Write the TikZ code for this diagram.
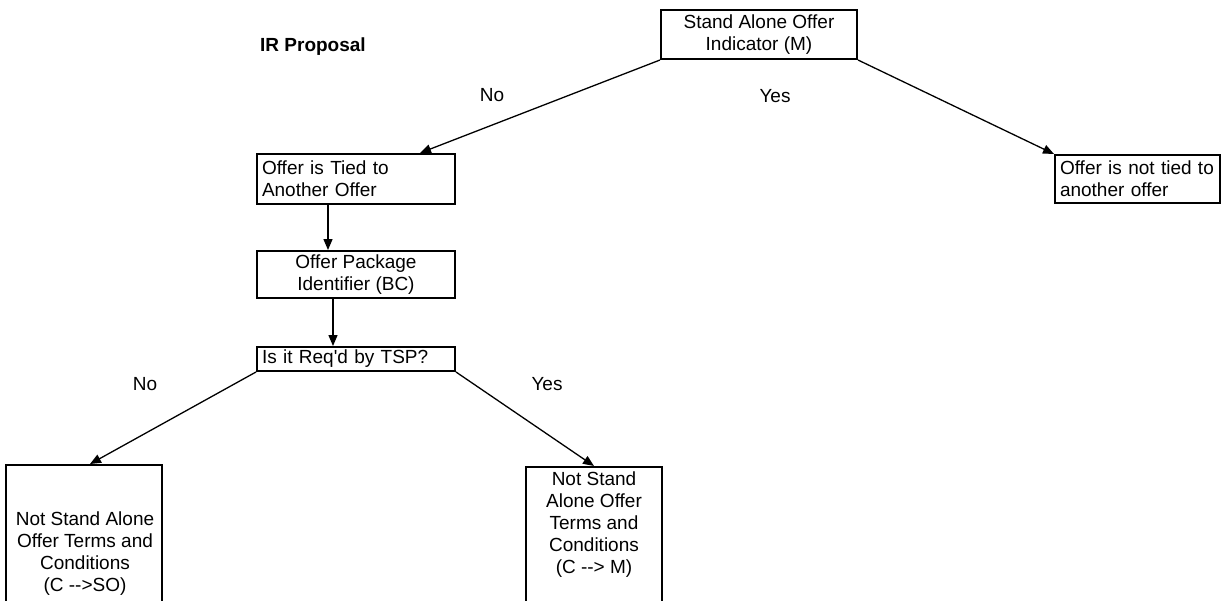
\documentclass[tikz,border=0pt]{standalone}
\usepackage{fontspec}
\setmainfont{Liberation Sans}[Ligatures=TeXOff]
\usetikzlibrary{arrows.meta,calc}
\begin{document}
\begin{tikzpicture}[x=1pt,y=-1pt,
  txt/.style={font=\fontsize{19}{22}\selectfont,inner sep=0pt,text=black},
  box/.style={txt,draw=black,line width=2pt,rectangle},
  lbox/.style={box,align=left},
  cbox/.style={box,align=center},
  conn/.style={draw=black,line width=1.3pt,-{Triangle[length=11pt,width=9pt]}},
  lbl/.style={txt}]
\useasboundingbox (0,0) rectangle (1221,600);
\clip (0,0) rectangle (1221,600);

\node[lbl,font=\fontsize{19}{22}\selectfont\bfseries,anchor=west] (title) at (260,47) {IR Proposal};

\node[cbox,minimum width=196,minimum height=49] (top) at (759,34.5) {Stand Alone Offer\\Indicator (M)};
\node[lbox,minimum width=198,minimum height=50,text width=188] (tied) at (356,179) {Offer is Tied to\\Another Offer};
\node[lbox,minimum width=165,minimum height=48,text width=155] (nottied) at (1137.5,179) {Offer is not tied to\\another offer};
\node[cbox,minimum width=198,minimum height=47] (pkg) at (356,274.5) {Offer Package\\Identifier (BC)};
\node[lbox,minimum width=198,minimum height=24,text width=188] (req) at (356,359) {Is it Req'd by TSP?};

\node[box,minimum width=156,minimum height=185] (bl) at (84,557.5) {};
\node[txt,align=center] (bltext) at (85,554) {Not Stand Alone\\Offer Terms and\\Conditions\\(C -->SO)};
\node[box,minimum width=136,minimum height=185] (bm) at (594,559.5) {};
\node[txt,align=center] (bmtext) at (594,525) {Not Stand\\Alone Offer\\Terms and\\Conditions\\(C --> M)};

\node[lbl] (no1) at (492,95) {No};
\node[lbl] (yes1) at (775,96) {Yes};
\node[lbl] (no2) at (145,384) {No};
\node[lbl] (yes2) at (547,384) {Yes};

\draw[conn] (top.south west) -- ([xshift=64]tied.north);
\draw[conn] (top.south east) -- (nottied.north west);
\draw[conn] ([xshift=-28]tied.south) -- ([xshift=-28]pkg.north);
\draw[conn] ([xshift=-23]pkg.south) -- ([xshift=-23]req.north);
\draw[conn] (req.south west) -- ([xshift=6]bl.north);
\draw[conn] (req.south east) -- (bm.north);
\end{tikzpicture}
\end{document}
